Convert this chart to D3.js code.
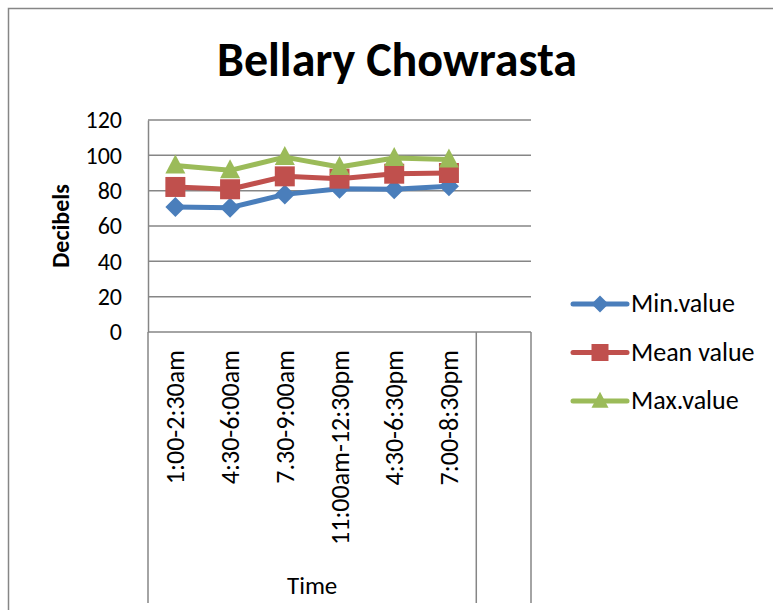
<!DOCTYPE html>
<html>
<head>
<meta charset="utf-8">
<script src="https://cdn.jsdelivr.net/npm/d3@7"></script>
<style>
  body { margin: 0; background: #fff; }
  text { font-family: Carlito, "Open Sans", "Liberation Sans", sans-serif; fill: #000; }
</style>
</head>
<body>
<div id="chart"></div>
<script>
// data
var categories = ["1:00-2:30am", "4:30-6:00am", "7.30-9:00am", "11:00am-12:30pm", "4:30-6:30pm", "7:00-8:30pm", ""];
var minValues  = [70.7, 70.4, 77.9, 81.1, 80.8, 82.5];
var meanValues = [82.1, 80.8, 88.1, 86.8, 89.6, 90.0];
var maxValues  = [94.3, 91.5, 99.0, 93.4, 98.5, 97.6];
var yTicks = [0, 20, 40, 60, 80, 100, 120];
var seriesNames = ["Min.value", "Mean value", "Max.value"];

var width = 773;
var height = 610;
var grey = "#868686";

var svg = d3.select("#chart")
  .append("svg")
  .attr("width", width)
  .attr("height", height);

// outer chart frame
svg.append("path")
  .attr("d", "M8.5,612 V8.5 H775")
  .attr("fill", "none")
  .attr("stroke", grey)
  .attr("stroke-width", 1.5);

// title
svg.append("text")
  .attr("x", 397)
  .attr("y", 76)
  .attr("text-anchor", "middle")
  .style("font-size", "48px")
  .style("font-weight", "bold")
  .text("Bellary Chowrasta");

// scales
var plotLeft = 148, plotRight = 531, plotTop = 120, plotBottom = 332;

var xScale = d3.scaleBand()
  .domain(d3.range(categories.length))
  .range([plotLeft, plotRight]);

var yScale = d3.scaleLinear()
  .domain([0, 120])
  .range([plotBottom, plotTop]);

// gridlines
svg.append("g")
  .selectAll("line")
  .data(yTicks)
  .enter()
  .append("line")
  .attr("x1", plotLeft)
  .attr("x2", plotRight)
  .attr("y1", function(d) { return yScale(d); })
  .attr("y2", function(d) { return yScale(d); })
  .attr("stroke", grey)
  .attr("stroke-width", 1.5);

// y axis
var yAxis = d3.axisLeft(yScale).tickValues(yTicks).tickSize(0).tickPadding(26);
var yG = svg.append("g")
  .attr("transform", "translate(" + plotLeft + ",0)")
  .call(yAxis);
yG.select(".domain").attr("stroke", grey).attr("stroke-width", 1.5);
yG.selectAll("text")
  .style("font-size", "24px")
  .style("font-family", "Carlito, 'Open Sans', 'Liberation Sans', sans-serif")
  .attr("fill", "#000");

svg.append("text")
  .attr("transform", "translate(69,226) rotate(-90)")
  .attr("text-anchor", "middle")
  .style("font-size", "24px")
  .style("font-weight", "bold")
  .text("Decibels");

// category area (multi level axis box)
var boxBottom = 603;
var boxLines = [plotLeft, xScale(6), plotRight];
svg.append("g")
  .selectAll("line")
  .data(boxLines)
  .enter()
  .append("line")
  .attr("x1", function(d) { return d; })
  .attr("x2", function(d) { return d; })
  .attr("y1", plotBottom)
  .attr("y2", boxBottom)
  .attr("stroke", grey)
  .attr("stroke-width", 1.5);

svg.append("g")
  .selectAll("text")
  .data(categories)
  .enter()
  .append("text")
  .attr("transform", function(d, i) {
    return "translate(" + (xScale(i) + xScale.bandwidth() / 2 + 9) + ",350) rotate(-90)";
  })
  .attr("text-anchor", "end")
  .style("font-size", "26px")
  .text(function(d) { return d; });

svg.append("text")
  .attr("x", (plotLeft + xScale(6)) / 2)
  .attr("y", 594)
  .attr("text-anchor", "middle")
  .style("font-size", "25px")
  .text("Time");

// series
var series = [
  { name: seriesNames[0], values: minValues,  color: "#4A7EBB", symbol: "diamond" },
  { name: seriesNames[1], values: meanValues, color: "#C0504D", symbol: "square" },
  { name: seriesNames[2], values: maxValues,  color: "#9BBB59", symbol: "triangle" }
];

function markerPath(kind) {
  if (kind === "diamond") return "M0,-10 L10,0 L0,10 L-10,0 Z";
  if (kind === "square") return "M-10,-10 H10 V10 H-10 Z";
  return "M0,-11 L10,8 L-10,8 Z";
}

var line = d3.line()
  .x(function(d, i) { return xScale(i) + xScale.bandwidth() / 2; })
  .y(function(d) { return yScale(d); });

series.forEach(function(s) {
  var g = svg.append("g");
  g.append("path")
    .datum(s.values)
    .attr("d", line)
    .attr("fill", "none")
    .attr("stroke", s.color)
    .attr("stroke-width", 5)
    .attr("stroke-linejoin", "round");
  g.selectAll(".mark")
    .data(s.values)
    .enter()
    .append("path")
    .attr("class", "mark")
    .attr("transform", function(d, i) {
      return "translate(" + (xScale(i) + xScale.bandwidth() / 2) + "," + yScale(d) + ")";
    })
    .attr("d", markerPath(s.symbol))
    .attr("fill", s.color);
});

// legend
var legend = svg.append("g")
  .selectAll("g")
  .data(series)
  .enter()
  .append("g")
  .attr("transform", function(d, i) { return "translate(573," + (304 + i * 48.5) + ")"; });

legend.append("line")
  .attr("x1", 0).attr("x2", 54)
  .attr("stroke", function(d) { return d.color; })
  .attr("stroke-width", 5)
  .attr("stroke-linecap", "round");

legend.append("path")
  .attr("transform", "translate(27,0) scale(0.85)")
  .attr("d", function(d) { return markerPath(d.symbol); })
  .attr("fill", function(d) { return d.color; });

legend.append("text")
  .attr("x", 58)
  .attr("y", 8)
  .style("font-size", "26px")
  .text(function(d) { return d.name; });
</script>
</body>
</html>
